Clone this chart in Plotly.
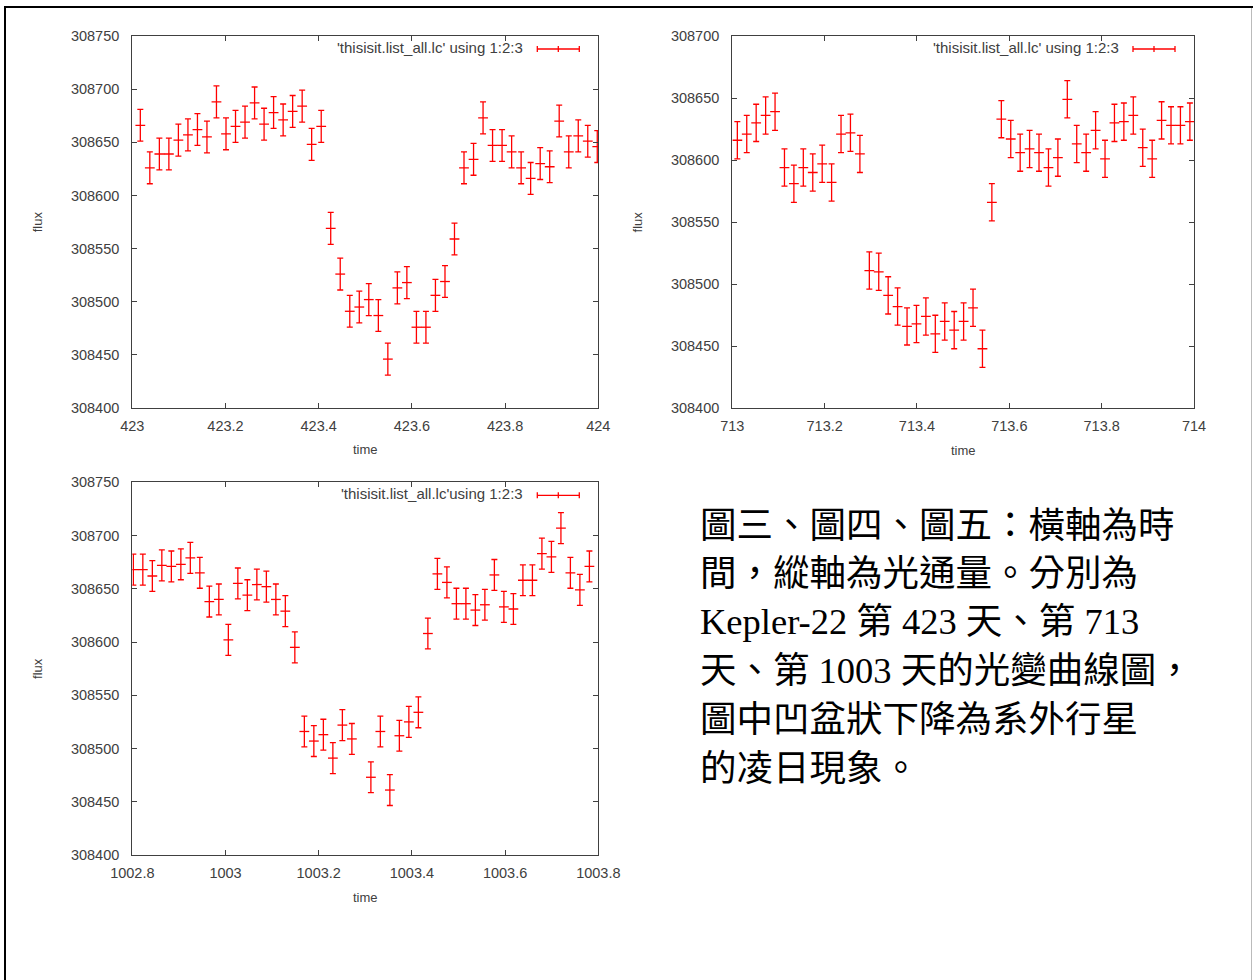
import plotly.graph_objects as go

W, H = 1253, 980

# ---------------- data ----------------
time_423 = [423.0172, 423.0376, 423.0581, 423.0785, 423.0989, 423.1194, 423.1398, 423.1602, 423.1806, 423.2011,
            423.2215, 423.2419, 423.2624, 423.2828, 423.3032, 423.3237, 423.3441, 423.3645, 423.3849, 423.4054,
            423.4258, 423.4462, 423.4667, 423.4871, 423.5075, 423.5280, 423.5484, 423.5688, 423.5892, 423.6097,
            423.6301, 423.6505, 423.6710, 423.6914, 423.7118, 423.7323, 423.7527, 423.7731, 423.7935, 423.8140,
            423.8344, 423.8548, 423.8753, 423.8957, 423.9161, 423.9366, 423.9570, 423.9774, 423.9978]
flux_423 = [308666, 308626, 308639, 308639, 308652, 308657, 308662, 308655, 308688, 308658,
            308665, 308669, 308687, 308667, 308678, 308671, 308679, 308684, 308648, 308665,
            308569, 308526, 308491, 308495, 308502, 308487, 308446, 308513, 308518, 308476,
            308476, 308506, 308519, 308559, 308626, 308634, 308673, 308647, 308647, 308641,
            308626, 308616, 308630, 308627, 308670, 308641, 308656, 308651, 308646]
err_423 = 15

time_713 = [713.0109, 713.0313, 713.0517, 713.0722, 713.0926, 713.1130, 713.1334, 713.1538, 713.1743, 713.1947,
            713.2151, 713.2355, 713.2559, 713.2764, 713.2968, 713.3172, 713.3376, 713.3580, 713.3785, 713.3989,
            713.4193, 713.4397, 713.4601, 713.4806, 713.5010, 713.5214, 713.5418, 713.5622, 713.5827, 713.6031,
            713.6235, 713.6439, 713.6643, 713.6848, 713.7052, 713.7256, 713.7460, 713.7664, 713.7869, 713.8073,
            713.8277, 713.8481, 713.8685, 713.8890, 713.9094, 713.9298, 713.9502, 713.9706, 713.9911]
flux_713 = [308616, 308621, 308630, 308636, 308639, 308594, 308581, 308594, 308590, 308597,
            308582, 308621, 308622, 308605, 308511, 308510, 308491, 308482, 308466, 308468,
            308474, 308460, 308470, 308463, 308470, 308481, 308448, 308566, 308633, 308617,
            308606, 308609, 308606, 308594, 308602, 308649, 308613, 308606, 308624, 308601,
            308630, 308631, 308636, 308610, 308601, 308632, 308628, 308628, 308631]
err_713 = 15

time_1003 = [1002.8022, 1002.8226, 1002.8430, 1002.8634, 1002.8838, 1002.9042, 1002.9245, 1002.9449, 1002.9653, 1002.9857,
             1003.0061, 1003.0265, 1003.0469, 1003.0673, 1003.0877, 1003.1081, 1003.1284, 1003.1488, 1003.1692, 1003.1896,
             1003.2100, 1003.2304, 1003.2508, 1003.2712, 1003.3120, 1003.3323, 1003.3527, 1003.3731, 1003.3935, 1003.4139,
             1003.4343, 1003.4547, 1003.4751, 1003.4955, 1003.5159, 1003.5362, 1003.5566, 1003.5770, 1003.5974, 1003.6178,
             1003.6382, 1003.6586, 1003.6790, 1003.6994, 1003.7198, 1003.7401, 1003.7605, 1003.7809]
flux_1003 = [308668, 308668, 308662, 308672, 308671, 308673, 308679, 308665, 308638, 308640,
             308602, 308655, 308644, 308654, 308652, 308640, 308629, 308595, 308516, 308507,
             308513, 308491, 308522, 308509, 308473, 308516, 308461, 308512, 308525, 308534,
             308608, 308664, 308656, 308636, 308636, 308630, 308635, 308663, 308633, 308631,
             308658, 308658, 308683, 308680, 308707, 308665, 308649, 308671]
err_1003 = 14.5

x_ticks_423 = [423, 423.2, 423.4, 423.6, 423.8, 424]
x_ticks_713 = [713, 713.2, 713.4, 713.6, 713.8, 714]
x_ticks_1003 = [1002.8, 1003, 1003.2, 1003.4, 1003.6, 1003.8]
y_ticks_a = [308400, 308450, 308500, 308550, 308600, 308650, 308700, 308750]
y_ticks_b = [308400, 308450, 308500, 308550, 308600, 308650, 308700]

legend_label = "'thisisit.list_all.lc' using 1:2:3"
legend_label_3 = "'thisisit.list_all.lc'using 1:2:3"

caption_lines = [
    "圖三、圖四、圖五：橫軸為時",
    "間，縱軸為光通量。分別為",
    "Kepler-22 第 423 天、第 713",
    "天、第 1003 天的光變曲線圖，",
    "圖中凹盆狀下降為系外行星",
    "的凌日現象。",
]

# ---------------- layout helpers ----------------
def px(x):
    return x / W

def py(y):
    return 1 - y / H

RED = "#ff0000"
AXC = "#404040"
SANS = "Liberation Sans, Arial, sans-serif"
TICKFONT = dict(family=SANS, size=14.5, color="#404040")

panels = [
    # (times, flux, err, xrange, xticks, yrange, yticks, left, right, top, bottom, legend)
    (time_423, flux_423, err_423, [423, 424], x_ticks_423, [308400, 308750], y_ticks_a,
     132.3, 598.3, 36, 408, legend_label),
    (time_713, flux_713, err_713, [713, 714], x_ticks_713, [308400, 308700], y_ticks_b,
     732.3, 1194, 36, 408.3, legend_label),
    (time_1003, flux_1003, err_1003, [1002.8, 1003.8], x_ticks_1003, [308400, 308750], y_ticks_a,
     132.3, 598.3, 482.3, 855, legend_label_3),
]

fig = go.Figure()
annotations = []
shapes = []

for i, (t, f, e, xr, xt, yr, yt, L, R, T, B, leg) in enumerate(panels, start=1):
    xa = "x" if i == 1 else f"x{i}"
    ya = "y" if i == 1 else f"y{i}"
    fig.add_trace(go.Scatter(
        x=t, y=f, mode="markers", xaxis=xa, yaxis=ya, showlegend=False,
        marker=dict(symbol="line-ew", size=7, line=dict(color=RED, width=1.3)),
        error_y=dict(type="constant", value=e, color=RED, thickness=1.3, width=3),
    ))
    axis_common = dict(showline=True, linecolor=AXC, linewidth=1.2, mirror="ticks",
                       ticks="inside", ticklen=5, tickcolor=AXC, tickwidth=1,
                       showgrid=False, zeroline=False, tickfont=TICKFONT,
                       automargin=False)
    fig.update_layout(**{
        ("xaxis" if i == 1 else f"xaxis{i}"): dict(
            domain=[px(L), px(R)], range=xr, tickvals=xt,
            ticktext=[f"{v:g}" for v in xt], anchor=ya,
            ticklabelstandoff=4, **axis_common),
        ("yaxis" if i == 1 else f"yaxis{i}"): dict(
            domain=[py(B), py(T)], range=yr, tickvals=yt,
            ticktext=[str(v) for v in yt], anchor=xa,
            ticklabelstandoff=9, **axis_common),
    })
    # axis titles
    annotations.append(dict(x=px(L - 95), y=py((T + B) / 2), xref="paper", yref="paper",
                            xanchor="center", yanchor="middle",
                            text="flux", textangle=-90, showarrow=False,
                            font=dict(family=SANS, size=13, color="#404040")))
    annotations.append(dict(x=px((L + R) / 2), y=py(B + 42), xref="paper", yref="paper",
                            xanchor="center", yanchor="middle",
                            text="time", showarrow=False,
                            font=dict(family=SANS, size=13, color="#404040")))
    # gnuplot style key
    annotations.append(dict(x=px(R - 73), y=py(T + 11), xref="paper", yref="paper",
                            xanchor="right", yanchor="middle", text=leg, showarrow=False,
                            font=dict(family=SANS, size=15, color="#404040")))
    ky = T + 13
    kx0, kx1 = R - 61, R - 19
    line_style = dict(color=RED, width=1.3)
    shapes.append(dict(type="line", xref="paper", yref="paper", x0=px(kx0), x1=px(kx1),
                       y0=py(ky), y1=py(ky), line=line_style))
    for kx in (kx0, kx1, (kx0 + kx1) / 2):
        shapes.append(dict(type="line", xref="paper", yref="paper", x0=px(kx), x1=px(kx),
                           y0=py(ky - 3), y1=py(ky + 3), line=line_style))

# caption text
line_centers = [525, 573.5, 621.5, 670, 719, 768]
for txt, yc in zip(caption_lines, line_centers):
    annotations.append(dict(x=px(698), y=py(yc), xref="paper", yref="paper",
                            xanchor="left", yanchor="middle", text=txt, showarrow=False,
                            font=dict(family="Liberation Serif, Noto Sans CJK TC, serif",
                                      size=36.5, color="black")))

# page frame
shapes.append(dict(type="line", xref="paper", yref="paper", x0=px(4), x1=px(1253),
                   y0=py(7), y1=py(7), line=dict(color="black", width=2)))
shapes.append(dict(type="line", xref="paper", yref="paper", x0=px(5), x1=px(5),
                   y0=py(6), y1=py(980), line=dict(color="black", width=2)))
shapes.append(dict(type="line", xref="paper", yref="paper", x0=px(1251.5), x1=px(1251.5),
                   y0=py(8), y1=py(980), line=dict(color="#bbbbbb", width=1)))

fig.update_layout(
    template="none",
    width=W, height=H, margin=dict(l=0, r=0, t=0, b=0, pad=0, autoexpand=False),
    paper_bgcolor="white", plot_bgcolor="white",
    annotations=annotations, shapes=shapes, showlegend=False,
)

fig.write_html("out.html",
               config={"displayModeBar": False},
               post_script="document.body.style.margin='0px';document.body.style.overflow='hidden';")
